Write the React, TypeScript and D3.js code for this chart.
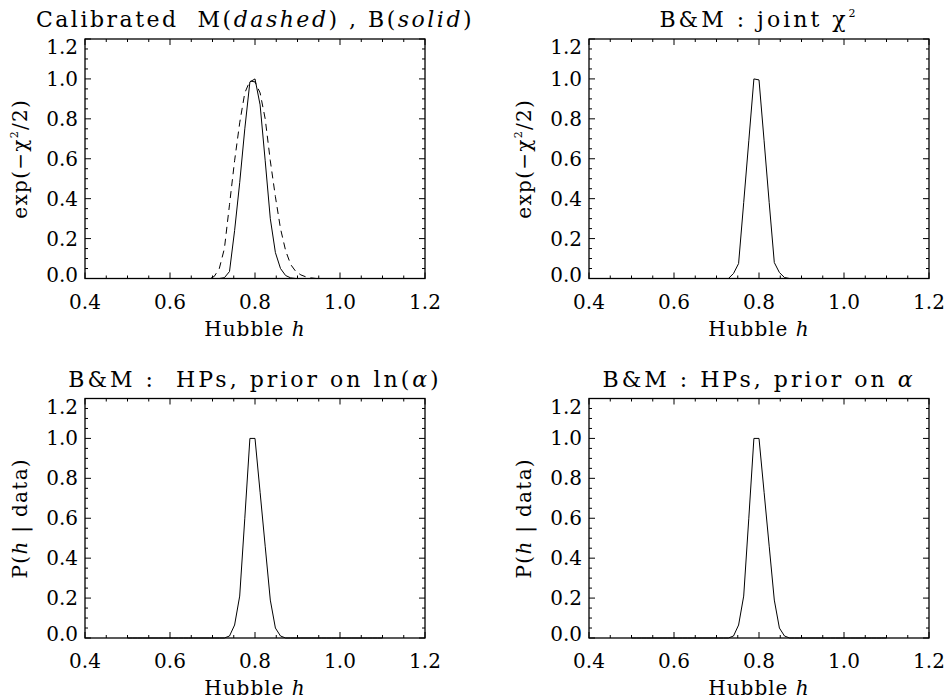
import React from 'react';
import * as d3 from 'd3';

// h grid of the likelihood scans (0.5 .. 1.1)
const H_GRID = [
  0.5, 0.512, 0.524, 0.536, 0.548, 0.56, 0.572, 0.584, 0.596, 0.608,
  0.62, 0.632, 0.644, 0.656, 0.668, 0.68, 0.692, 0.704, 0.716, 0.728,
  0.74, 0.752, 0.764, 0.776, 0.788, 0.8, 0.812, 0.824, 0.836, 0.848,
  0.86, 0.872, 0.884, 0.896, 0.908, 0.92, 0.932, 0.944, 0.956, 0.968,
  0.98, 0.992, 1.004, 1.016, 1.028, 1.04, 1.052, 1.064, 1.076, 1.088,
  1.1,
];

// calibrated M (dashed)
const CAL_M = [
  0, 0, 0, 0, 0, 0, 0, 0, 0, 0,
  0, 0, 0, 0, 0, 0, 0, 0.01, 0.05, 0.15,
  0.37, 0.59, 0.78, 0.93, 0.99, 0.985, 0.93, 0.8, 0.59, 0.41,
  0.25, 0.14, 0.07, 0.035, 0.018, 0.008, 0.003, 0, 0, 0,
  0, 0, 0, 0, 0, 0, 0, 0, 0, 0,
  0,
];

// calibrated B (solid)
const CAL_B = [
  0, 0, 0, 0, 0, 0, 0, 0, 0, 0,
  0, 0, 0, 0, 0, 0, 0, 0, 0, 0.004,
  0.035, 0.24, 0.48, 0.75, 0.985, 1.0, 0.87, 0.59, 0.3, 0.13,
  0.05, 0.015, 0.003, 0, 0, 0, 0, 0, 0, 0,
  0, 0, 0, 0, 0, 0, 0, 0, 0, 0,
  0,
];

const JOINT = [
  0, 0, 0, 0, 0, 0, 0, 0, 0, 0,
  0, 0, 0, 0, 0, 0, 0, 0, 0, 0,
  0.025, 0.075, 0.38, 0.69, 1.0, 0.995, 0.69, 0.38, 0.08, 0.03,
  0.005, 0, 0, 0, 0, 0, 0, 0, 0, 0,
  0, 0, 0, 0, 0, 0, 0, 0, 0, 0,
  0,
];

const HP_LN_ALPHA = [
  0, 0, 0, 0, 0, 0, 0, 0, 0, 0,
  0, 0, 0, 0, 0, 0, 0, 0, 0, 0,
  0.01, 0.065, 0.21, 0.6, 1.0, 1.0, 0.73, 0.46, 0.19, 0.05,
  0.01, 0, 0, 0, 0, 0, 0, 0, 0, 0,
  0, 0, 0, 0, 0, 0, 0, 0, 0, 0,
  0,
];

const HP_ALPHA = [
  0, 0, 0, 0, 0, 0, 0, 0, 0, 0,
  0, 0, 0, 0, 0, 0, 0, 0, 0, 0,
  0.01, 0.065, 0.21, 0.6, 1.0, 1.0, 0.73, 0.46, 0.19, 0.05,
  0.01, 0, 0, 0, 0, 0, 0, 0, 0, 0,
  0, 0, 0, 0, 0, 0, 0, 0, 0, 0,
  0,
];

const X_TICKS = [0.4, 0.6, 0.8, 1.0, 1.2];
const Y_TICKS = [0, 0.2, 0.4, 0.6, 0.8, 1.0, 1.2];

const FONT = '"DejaVu Serif", serif';
const W = 340;
const H = 239.5;

type Series = { values: number[]; dash?: string };

type PanelProps = {
  left: number;
  top: number;
  title: React.ReactNode;
  titleSpacing: number;
  ylabel: React.ReactNode;
  series: Series[];
};

const Panel = ({ left, top, title, titleSpacing, ylabel, series }: PanelProps) => {
  const x = d3.scaleLinear().domain([0.4, 1.2]).range([left, left + W]);
  const y = d3.scaleLinear().domain([0, 1.2]).range([top + H, top]);
  const line = d3.line<number>().x((d, i) => x(H_GRID[i])).y((d) => y(d));
  const fmt = d3.format('.1f');
  const bottom = top + H;
  // end labels sit inside the axis span, like in the original plot
  const nudge = (t: number) => (t >= 1.2 - 1e-6 ? 8 : t <= 1e-6 ? -4 : 0);

  return (
    <g>
      <text x={left + W / 2} y={top - 12} textAnchor="middle" fontSize={22}
        letterSpacing={titleSpacing} style={{ whiteSpace: 'pre' }}>{title}</text>

      {series.map((s, i) => (
        <path key={i} d={line(s.values) ?? ''} fill="none" stroke="#000"
          strokeWidth={1} strokeDasharray={s.dash} />
      ))}

      <rect x={left} y={top} width={W} height={H} fill="none" stroke="#000" strokeWidth={1.3} />

      {x.ticks(16).map((t) => {
        const major = X_TICKS.some((m) => Math.abs(m - t) < 1e-6);
        const len = major ? 6 : 3;
        return (
          <g key={'x' + t}>
            <line x1={x(t)} x2={x(t)} y1={bottom} y2={bottom - len} stroke="#000" />
            <line x1={x(t)} x2={x(t)} y1={top} y2={top + len} stroke="#000" />
          </g>
        );
      })}
      {y.ticks(24).map((t) => {
        const major = Y_TICKS.some((m) => Math.abs(m - t) < 1e-6);
        const len = major ? 6 : 3;
        return (
          <g key={'y' + t}>
            <line x1={left} x2={left + len} y1={y(t)} y2={y(t)} stroke="#000" />
            <line x1={left + W} x2={left + W - len} y1={y(t)} y2={y(t)} stroke="#000" />
          </g>
        );
      })}

      {X_TICKS.map((t) => (
        <text key={'xl' + t} x={x(t)} y={bottom + 30} textAnchor="middle" fontSize={20}>{fmt(t)}</text>
      ))}
      {Y_TICKS.map((t) => (
        <text key={'yl' + t} x={left - 7} y={y(t) + 7 + nudge(t)} textAnchor="end" fontSize={20}>{fmt(t)}</text>
      ))}

      <text x={left + W / 2} y={bottom + 57} textAnchor="middle" fontSize={20}
        letterSpacing={1} style={{ whiteSpace: 'pre' }}>
        Hubble <tspan fontStyle="italic">h</tspan>
      </text>

      <text transform={`translate(${left - 58},${top + H / 2}) rotate(-90)`} textAnchor="middle"
        fontSize={20} letterSpacing={1.3} style={{ whiteSpace: 'pre' }}>{ylabel}</text>
    </g>
  );
};

const expLabel = (
  <>
    exp(−χ<tspan fontSize={11} dy={-9}>2</tspan><tspan dy={9}>/2)</tspan>
  </>
);

const postLabel = (
  <>
    P(<tspan fontStyle="italic">h</tspan> | data)
  </>
);

export default function App() {
  return (
    <svg width={946} height={700} fontFamily={FONT}
      style={{ position: 'absolute', left: 0, top: 0, background: '#fff' }}>
      <Panel left={85} top={39} titleSpacing={2.5}
        title={<>Calibrated  M(<tspan fontStyle="italic">dashed</tspan>) , B(<tspan fontStyle="italic">solid</tspan>)</>}
        ylabel={expLabel}
        series={[{ values: CAL_M, dash: '7,5' }, { values: CAL_B }]} />
      <Panel left={589} top={39} titleSpacing={3}
        title={<>B&amp;M : joint χ<tspan fontSize={11} dy={-10}>2</tspan></>}
        ylabel={expLabel}
        series={[{ values: JOINT }]} />
      <Panel left={85} top={398.5} titleSpacing={3}
        title={<>B&amp;M :  HPs, prior on ln(<tspan fontStyle="italic">α</tspan>)</>}
        ylabel={postLabel}
        series={[{ values: HP_LN_ALPHA }]} />
      <Panel left={589} top={398.5} titleSpacing={3}
        title={<>B&amp;M : HPs, prior on <tspan fontStyle="italic">α</tspan></>}
        ylabel={postLabel}
        series={[{ values: HP_ALPHA }]} />
    </svg>
  );
}
